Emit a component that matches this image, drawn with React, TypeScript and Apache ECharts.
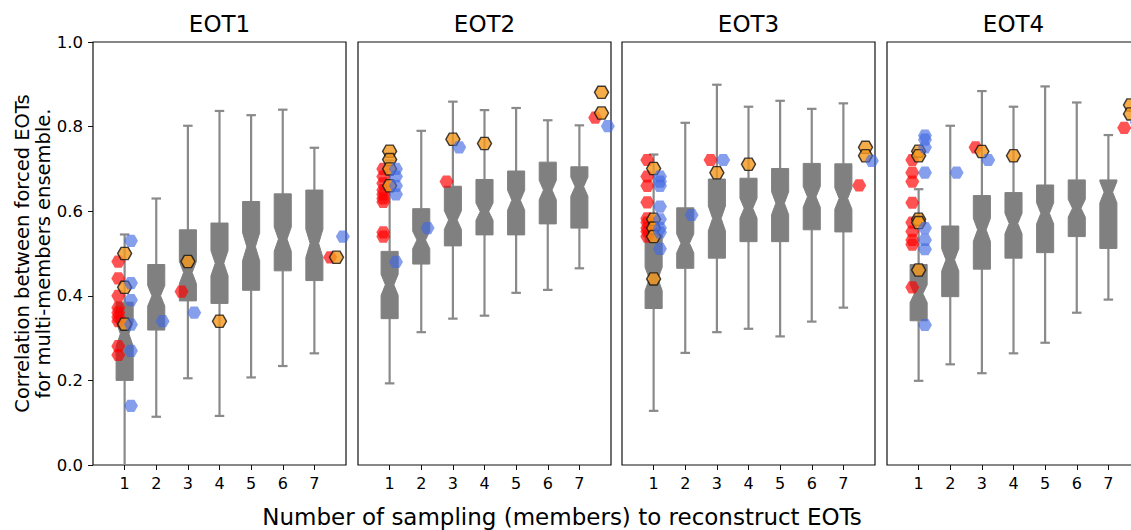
import React, { useEffect, useRef } from "react";
import * as echarts from "echarts";

const PANELS = ["EOT1", "EOT2", "EOT3", "EOT4"];
const SAMPLES = [1, 2, 3, 4, 5, 6, 7];
const Y_LABEL_1 = "Correlation between forced EOTs";
const Y_LABEL_2 = "for multi-members ensemble.";
const X_LABEL = "Number of sampling (members) to reconstruct EOTs";

// box stats per sample: [low whisker, q1, median, q3, high whisker]
const BOX_EOT1 = [
  [-0.03, 0.2, 0.31, 0.385, 0.545],
  [0.114, 0.319, 0.4, 0.474, 0.63],
  [0.205, 0.388, 0.455, 0.556, 0.802],
  [0.116, 0.382, 0.477, 0.572, 0.837],
  [0.207, 0.413, 0.516, 0.623, 0.827],
  [0.234, 0.459, 0.534, 0.641, 0.84],
  [0.264, 0.436, 0.524, 0.65, 0.75],
];
const BOX_EOT2 = [
  [0.193, 0.346, 0.426, 0.505, 0.72],
  [0.314, 0.475, 0.532, 0.606, 0.79],
  [0.346, 0.518, 0.579, 0.659, 0.859],
  [0.353, 0.544, 0.599, 0.675, 0.839],
  [0.407, 0.544, 0.626, 0.695, 0.844],
  [0.414, 0.57, 0.65, 0.716, 0.815],
  [0.465, 0.56, 0.658, 0.705, 0.803],
];
const BOX_EOT3 = [
  [0.128, 0.37, 0.44, 0.545, 0.734],
  [0.265, 0.465, 0.524, 0.608, 0.809],
  [0.314, 0.489, 0.583, 0.676, 0.899],
  [0.322, 0.528, 0.607, 0.678, 0.847],
  [0.304, 0.528, 0.619, 0.701, 0.861],
  [0.339, 0.556, 0.634, 0.713, 0.842],
  [0.372, 0.551, 0.63, 0.712, 0.855],
];
const BOX_EOT4 = [
  [0.199, 0.341, 0.405, 0.474, 0.652],
  [0.238, 0.398, 0.485, 0.565, 0.802],
  [0.217, 0.463, 0.556, 0.637, 0.884],
  [0.264, 0.489, 0.571, 0.644, 0.847],
  [0.289, 0.502, 0.595, 0.662, 0.895],
  [0.36, 0.54, 0.607, 0.674, 0.857],
  [0.391, 0.512, 0.645, 0.674, 0.78],
];

// scatter points: [group position, value]
const RED_EOT1 = [
  [1, 0.481], [1, 0.441], [1, 0.4], [1, 0.372], [1, 0.36], [1, 0.35], [1, 0.34], [1, 0.281], [1, 0.26],
  [3, 0.41], [7.7, 0.491],
];
const ORANGE_EOT1 = [[1, 0.5], [1, 0.42], [1, 0.333], [3, 0.481], [4, 0.34], [7.7, 0.491]];
const BLUE_EOT1 = [
  [1, 0.53], [1, 0.43], [1, 0.39], [1, 0.332], [1, 0.27], [1, 0.14], [2, 0.34], [3, 0.36], [7.7, 0.54],
];

const RED_EOT2 = [
  [1, 0.7], [1, 0.682], [1, 0.666], [1, 0.65], [1, 0.64], [1, 0.63], [1, 0.622], [1, 0.55], [1, 0.54],
  [3, 0.67], [7.7, 0.821],
];
const ORANGE_EOT2 = [[1, 0.742], [1, 0.722], [1, 0.7], [1, 0.66], [3, 0.77], [4, 0.76], [7.7, 0.881], [7.7, 0.832]];
const BLUE_EOT2 = [[1, 0.7], [1, 0.682], [1, 0.66], [1, 0.64], [1, 0.48], [2, 0.56], [3, 0.751], [7.7, 0.801]];

const RED_EOT3 = [
  [1, 0.721], [1, 0.682], [1, 0.66], [1, 0.621], [1, 0.583], [1, 0.573], [1, 0.56], [1, 0.552], [1, 0.54],
  [3, 0.721], [7.7, 0.661],
];
const ORANGE_EOT3 = [[1, 0.701], [1, 0.581], [1, 0.56], [1, 0.54], [1, 0.44], [3, 0.691], [4, 0.711], [7.7, 0.751], [7.7, 0.731]];
const BLUE_EOT3 = [
  [1, 0.682], [1, 0.67], [1, 0.66], [1, 0.611], [1, 0.581], [1, 0.56], [1, 0.55], [1, 0.511],
  [2, 0.591], [3, 0.721], [7.7, 0.719],
];

const RED_EOT4 = [
  [1, 0.721], [1, 0.691], [1, 0.67], [1, 0.62], [1, 0.573], [1, 0.552], [1, 0.532], [1, 0.521], [1, 0.42],
  [3, 0.751], [7.7, 0.797],
];
const ORANGE_EOT4 = [[1, 0.742], [1, 0.731], [1, 0.581], [1, 0.573], [1, 0.461], [3, 0.741], [4, 0.731], [7.7, 0.851], [7.7, 0.83]];
const BLUE_EOT4 = [
  [1, 0.779], [1, 0.769], [1, 0.751], [1, 0.691], [1, 0.56], [1, 0.532], [1, 0.51], [1, 0.331],
  [2, 0.691], [3, 0.721], [7.7, 0.81],
];

const BOXES = [BOX_EOT1, BOX_EOT2, BOX_EOT3, BOX_EOT4];
const REDS = [RED_EOT1, RED_EOT2, RED_EOT3, RED_EOT4];
const ORANGES = [ORANGE_EOT1, ORANGE_EOT2, ORANGE_EOT3, ORANGE_EOT4];
const BLUES = [BLUE_EOT1, BLUE_EOT2, BLUE_EOT3, BLUE_EOT4];

const GRID_LEFTS = [93, 358, 622, 887];
const GRID_TOP = 42;
const GRID_W = 253;
const GRID_H = 423;
const BOX_W = 0.54;
const CAP_W = 0.3;
const NOTCH_K = 0.157; // 1.57 / sqrt(n), n ~ 100
const HEX = "path://M2 0L1 1.732L-1 1.732L-2 0L-1 -1.732L1 -1.732Z";
const HEX_SIZE = [14, 12.2];
const FONT = "DejaVu Sans";

export default function App() {
  const ref = useRef<HTMLDivElement>(null);
  useEffect(() => {
    if (!ref.current) return;
    const chart = echarts.init(ref.current, null, { renderer: "svg" });

    const grids = PANELS.map((_, i) => ({
      left: GRID_LEFTS[i],
      top: GRID_TOP,
      width: GRID_W,
      height: GRID_H,
      show: true,
      borderColor: "#111",
      borderWidth: 1.2,
      backgroundColor: "transparent",
    }));

    const xAxes = PANELS.map((_, i) => ({
      type: "value",
      gridIndex: i,
      min: 0,
      max: 8,
      interval: 1,
      axisLine: { show: false },
      splitLine: { show: false },
      axisTick: { show: true, length: 5, inside: false, customValues: SAMPLES, lineStyle: { color: "#111" } },
      axisLabel: {
        show: true,
        customValues: SAMPLES,
        margin: 10,
        fontSize: 16,
        fontFamily: FONT,
        color: "#000",
        formatter: (v: number) => (v >= 1 && v <= 7 ? String(v) : ""),
      },
    }));

    const yAxes = PANELS.map((_, i) => ({
      type: "value",
      gridIndex: i,
      min: 0,
      max: 1,
      interval: 0.2,
      axisLine: { show: false },
      splitLine: { show: false },
      axisTick: { show: i === 0, length: 5, lineStyle: { color: "#111" } },
      axisLabel: {
        show: i === 0,
        margin: 10,
        fontSize: 16.5,
        fontFamily: FONT,
        color: "#000",
        formatter: (v: number) => v.toFixed(1),
      },
    }));

    const series: any[] = [];
    PANELS.forEach((_, i) => {
      series.push({
        type: "custom",
        xAxisIndex: i,
        yAxisIndex: i,
        clip: true,
        z: 2,
        encode: { x: 0, y: [1, 2, 3, 4, 5] },
        data: BOXES[i].map((b, k) => [SAMPLES[k], ...b]),
        renderItem: (params: any, api: any) => {
          const x = api.value(0);
          const low = api.value(1);
          const q1 = api.value(2);
          const med = api.value(3);
          const q3 = api.value(4);
          const high = api.value(5);
          const nh = NOTCH_K * (q3 - q1);
          const hw = BOX_W / 2;
          const cw = BOX_W / 4;
          const cap = CAP_W / 2;
          const P = (a: number, b: number) => api.coord([a, b]);
          const lineStyle = { stroke: "#8a8a8a", lineWidth: 2.2 };
          const line = (a: number[], b: number[]) => ({
            type: "line",
            shape: { x1: a[0], y1: a[1], x2: b[0], y2: b[1] },
            style: lineStyle,
          });
          const poly = [
            [x - hw, q1], [x + hw, q1], [x + hw, med - nh], [x + cw, med], [x + hw, med + nh],
            [x + hw, q3], [x - hw, q3], [x - hw, med + nh], [x - cw, med], [x - hw, med - nh],
          ].map((p) => P(p[0], p[1]));
          return {
            type: "group",
            children: [
              line(P(x, low), P(x, q1)),
              line(P(x, q3), P(x, high)),
              line(P(x - cap, low), P(x + cap, low)),
              line(P(x - cap, high), P(x + cap, high)),
              {
                type: "polygon",
                shape: { points: poly },
                style: { fill: "#808080", stroke: "#808080", lineWidth: 1 },
              },
            ],
          };
        },
      });
      const mk = (pts: number[][], off: number) => pts.map((p) => [p[0] + off, p[1]]);
      series.push({
        type: "scatter",
        xAxisIndex: i,
        yAxisIndex: i,
        clip: false,
        z: 3,
        symbol: HEX,
        symbolSize: HEX_SIZE,
        itemStyle: { color: "rgba(255,0,0,0.85)", borderWidth: 0 },
        data: mk(REDS[i], -0.2),
      });
      series.push({
        type: "scatter",
        xAxisIndex: i,
        yAxisIndex: i,
        clip: false,
        z: 4,
        symbol: HEX,
        symbolSize: HEX_SIZE,
        itemStyle: { color: "#f5971d", borderColor: "#111", borderWidth: 1.4 },
        data: mk(ORANGES[i], 0),
      });
      series.push({
        type: "scatter",
        xAxisIndex: i,
        yAxisIndex: i,
        clip: false,
        z: 5,
        symbol: HEX,
        symbolSize: HEX_SIZE,
        itemStyle: { color: "rgba(65,105,225,0.8)", borderWidth: 0 },
        data: mk(BLUES[i], 0.2),
      });
    });

    const graphics: any[] = PANELS.map((name, i) => ({
      type: "text",
      x: GRID_LEFTS[i] + GRID_W / 2,
      y: 24,
      style: {
        text: name,
        fontSize: 23,
        fontFamily: FONT,
        fill: "#000",
        textAlign: "center",
        textVerticalAlign: "middle",
      },
    }));
    graphics.push(
      {
        type: "text",
        x: 22,
        y: GRID_TOP + GRID_H / 2,
        rotation: Math.PI / 2,
        style: {
          text: Y_LABEL_1,
          fontSize: 19.5,
          fontFamily: FONT,
          fill: "#000",
          textAlign: "center",
          textVerticalAlign: "middle",
        },
      },
      {
        type: "text",
        x: 43,
        y: GRID_TOP + GRID_H / 2,
        rotation: Math.PI / 2,
        style: {
          text: Y_LABEL_2,
          fontSize: 19.5,
          fontFamily: FONT,
          fill: "#000",
          textAlign: "center",
          textVerticalAlign: "middle",
        },
      },
      {
        type: "text",
        x: 562,
        y: 517,
        style: {
          text: X_LABEL,
          fontSize: 23,
          fontFamily: FONT,
          fill: "#000",
          textAlign: "center",
          textVerticalAlign: "middle",
        },
      }
    );

    chart.setOption({
      animation: false,
      backgroundColor: "#fff",
      grid: grids,
      xAxis: xAxes,
      yAxis: yAxes,
      series,
      graphic: graphics,
    });
    return () => chart.dispose();
  }, []);

  return (
    <div style={{ position: "fixed", left: 0, top: 0, width: 1131, height: 530, overflow: "hidden", background: "#fff" }}>
      <div ref={ref} style={{ width: 1150, height: 530 }} />
    </div>
  );
}
